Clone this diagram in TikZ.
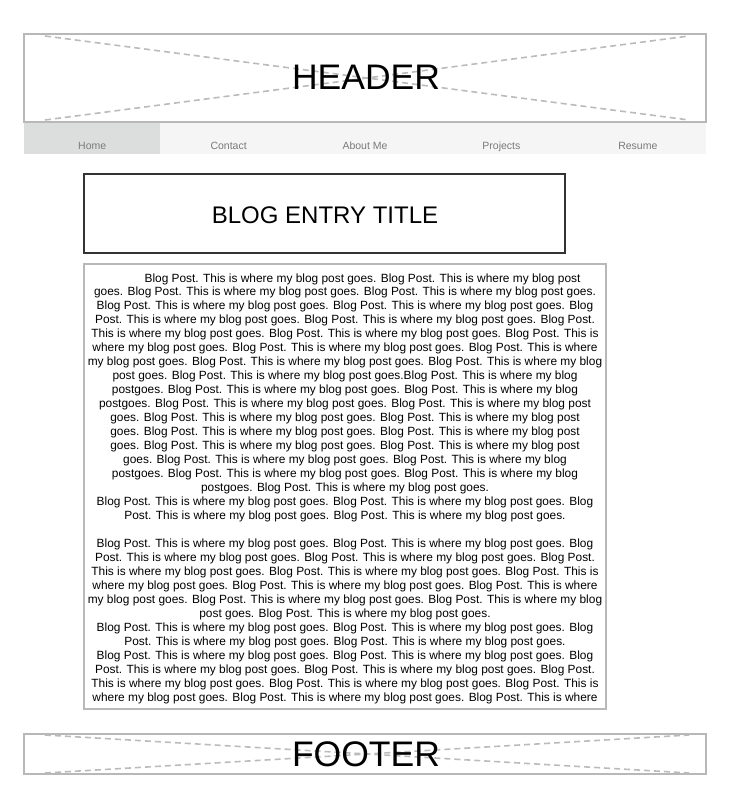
\documentclass[tikz,border=0pt]{standalone}
\usepackage{fontspec}
\setmainfont{Liberation Sans}
\usetikzlibrary{
  calc,
  positioning,
}
\definecolor{framegray}{HTML}{B8B8B8}
\definecolor{crossgray}{HTML}{BBBBBB}
\definecolor{tabgray}{HTML}{DCDDDD}
\definecolor{bargray}{HTML}{F5F5F5}
\definecolor{navgray}{HTML}{7A7A7A}
\definecolor{titledark}{HTML}{333333}

\tikzset{
  frame/.style={draw=framegray, line width=2pt, inner sep=0pt},
  xline/.style={draw=crossgray, line width=1.6pt, dash pattern=on 6pt off 4pt},
  bigword/.style={font=\fontsize{35.5}{40}\selectfont, anchor=base, inner sep=0pt},
  navitem/.style={font=\fontsize{10.5}{12}\selectfont, text=navgray, anchor=base, inner sep=0pt},
  bodyline/.style={font=\fontsize{11.9}{14}\selectfont, anchor=base, inner sep=0pt},
}

\begin{document}
\begin{tikzpicture}[x=1pt, y=-1pt]
  \useasboundingbox (0,0) rectangle (729,794);
  \def\tabw{136.4}
  \def\pitch{13.97}
  % navigation bar
  \fill[bargray] (24,122) rectangle (706,154);
  \fill[tabgray] (24,122) rectangle (160,154);
  \foreach \lbl [count=\i] in {Home, Contact, About Me, Projects, Resume}
    \node[navitem] (nav\i) at ({24+\tabw*(\i-0.5)}, 149.5) {\lbl};
  % header
  \node[frame, minimum width=682pt, minimum height=88pt] (header) at (365,78) {};
  \coordinate (hTL) at ($(header.north west)+(22,3)$);
  \coordinate (hTR) at ($(header.north east)+(-18,3)$);
  \coordinate (hBL) at ($(header.south west)+(22,-3)$);
  \coordinate (hBR) at ($(header.south east)+(-18,-3)$);
  \draw[xline] (hTL) -- (hBR);
  \draw[xline] (hBL) -- (hTR);
  \node[bigword] (headertext) at (366,90) {HEADER};
  % title
  \node[draw=titledark, line width=2pt, inner sep=0pt,
        minimum width=481pt, minimum height=79pt] (titlebox) at (324.5,213.5) {};
  \node[font=\fontsize{24}{28}\selectfont, anchor=base, inner sep=0pt] (title) at (325,223) {BLOG ENTRY TITLE};
  % blog post
  \node[frame, minimum width=522pt, minimum height=445pt] (post) at (345,486.5) {};
  \foreach \txt [count=\i] in {
    {\hspace*{35pt}Blog Post. This is where my blog post goes. Blog Post. This is where my blog post},
    {goes. Blog Post. This is where my blog post goes. Blog Post. This is where my blog post goes.},
    {Blog Post. This is where my blog post goes. Blog Post. This is where my blog post goes. Blog},
    {Post. This is where my blog post goes. Blog Post. This is where my blog post goes. Blog Post.},
    {This is where my blog post goes. Blog Post. This is where my blog post goes. Blog Post. This is},
    {where my blog post goes. Blog Post. This is where my blog post goes. Blog Post. This is where},
    {my blog post goes. Blog Post. This is where my blog post goes. Blog Post. This is where my blog},
    {post goes. Blog Post. This is where my blog post goes.Blog Post. This is where my blog},
    {postgoes. Blog Post. This is where my blog post goes. Blog Post. This is where my blog},
    {postgoes. Blog Post. This is where my blog post goes. Blog Post. This is where my blog post},
    {goes. Blog Post. This is where my blog post goes. Blog Post. This is where my blog post},
    {goes. Blog Post. This is where my blog post goes. Blog Post. This is where my blog post},
    {goes. Blog Post. This is where my blog post goes. Blog Post. This is where my blog post},
    {goes. Blog Post. This is where my blog post goes. Blog Post. This is where my blog},
    {postgoes. Blog Post. This is where my blog post goes. Blog Post. This is where my blog},
    {postgoes. Blog Post. This is where my blog post goes.},
    {Blog Post. This is where my blog post goes. Blog Post. This is where my blog post goes. Blog},
    {Post. This is where my blog post goes. Blog Post. This is where my blog post goes.},
    {},
    {Blog Post. This is where my blog post goes. Blog Post. This is where my blog post goes. Blog},
    {Post. This is where my blog post goes. Blog Post. This is where my blog post goes. Blog Post.},
    {This is where my blog post goes. Blog Post. This is where my blog post goes. Blog Post. This is},
    {where my blog post goes. Blog Post. This is where my blog post goes. Blog Post. This is where},
    {my blog post goes. Blog Post. This is where my blog post goes. Blog Post. This is where my blog},
    {post goes. Blog Post. This is where my blog post goes.},
    {Blog Post. This is where my blog post goes. Blog Post. This is where my blog post goes. Blog},
    {Post. This is where my blog post goes. Blog Post. This is where my blog post goes.},
    {Blog Post. This is where my blog post goes. Blog Post. This is where my blog post goes. Blog},
    {Post. This is where my blog post goes. Blog Post. This is where my blog post goes. Blog Post.},
    {This is where my blog post goes. Blog Post. This is where my blog post goes. Blog Post. This is},
    {where my blog post goes. Blog Post. This is where my blog post goes. Blog Post. This is where}}
    \node[bodyline] (line\i) at (345, {282+\pitch*(\i-1)}) {\txt};
  % footer
  \node[frame, minimum width=682pt, minimum height=40pt] (footer) at (365,754) {};
  \coordinate (fTL) at ($(footer.north west)+(22,2)$);
  \coordinate (fTR) at ($(footer.north east)+(-18,2)$);
  \coordinate (fBL) at ($(footer.south west)+(22,-2)$);
  \coordinate (fBR) at ($(footer.south east)+(-18,-2)$);
  \draw[xline] (fTL) -- (fBR);
  \draw[xline] (fBL) -- (fTR);
  \node[bigword] (footertext) at (366,766) {FOOTER};
\end{tikzpicture}
\end{document}
